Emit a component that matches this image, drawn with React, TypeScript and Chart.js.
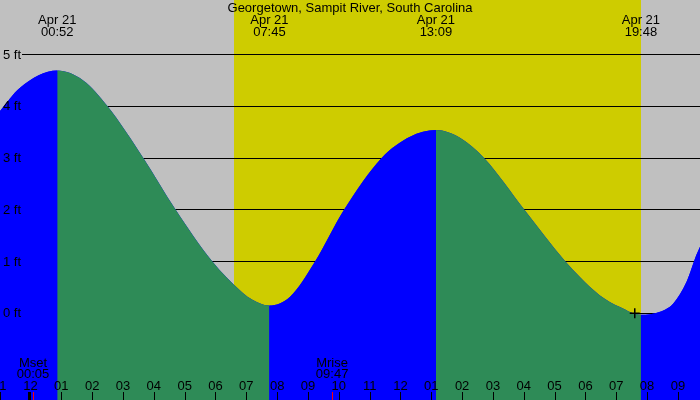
import { useEffect, useRef } from "react"
import { Chart, registerables } from "chart.js"

Chart.register(...registerables)

// Tide curve: hours after midnight (Apr 21) and height in feet
const tideHours = [-0.99, -0.34, 0.867, 1.71, 2.5, 3.66, 4.71, 5.9, 6.8, 7.12, 7.75, 8.42, 9.23, 10.17, 11.39, 12.31, 13.15, 13.93, 14.71, 16.02, 17.35, 17.82, 18.46, 19.12, 19.8, 20.42, 20.85, 21.28, 21.6, 21.72]
const tideFeet = [3.91, 4.36, 4.69, 4.5, 4.0, 3.0, 2.0, 1.0, 0.44, 0.29, 0.15, 0.32, 1.0, 2.0, 3.0, 3.41, 3.54, 3.39, 3.0, 2.0, 1.0, 0.7, 0.35, 0.12, -0.03, 0.03, 0.19, 0.61, 1.13, 1.29]

// High / low tide labels
const extremeHours = [0.867, 7.75, 13.15, 19.8]
const extremeDates = ["Apr 21", "Apr 21", "Apr 21", "Apr 21"]
const extremeTimes = ["00:52", "07:45", "13:09", "19:48"]

// Daylight
const sunriseHour = 6.6
const sunsetHour = 19.8

// Moon events
const moonNames = ["Mset", "Mrise"]
const moonTimes = ["00:05", "09:47"]
const moonHours = [0.083, 9.783]

// Axis ticks
const feetLevels = [0, 1, 2, 3, 4, 5]
const feetLabels = ["0 ft", "1 ft", "2 ft", "3 ft", "4 ft", "5 ft"]
const hourTicks = [-1, 0, 1, 2, 3, 4, 5, 6, 7, 8, 9, 10, 11, 12, 13, 14, 15, 16, 17, 18, 19, 20, 21]
const hourLabels = ["11", "12", "01", "02", "03", "04", "05", "06", "07", "08", "09", "10", "11", "12", "01", "02", "03", "04", "05", "06", "07", "08", "09"]
const dayBoundaries = [0]

// Datum marker
const markerHours = [19.6]
const markerFeet = [0]

const title = "Georgetown, Sampit River, South Carolina"

const GRAY = "#c0c0c0"
const YELLOW = "#cecc00"
const BLUE = "#0000ff"
const GREEN = "#2e8b57"
const FONT = "13px 'Liberation Sans', Arial, sans-serif"

const tidePlugin = {
  id: "tideDecor",
  beforeDraw(chart: any) {
    const { ctx, scales } = chart
    const x = scales.x
    const y = scales.y
    ctx.save()
    ctx.fillStyle = GRAY
    ctx.fillRect(0, 0, chart.width, chart.height)
    const x0 = x.getPixelForValue(sunriseHour)
    const x1 = x.getPixelForValue(sunsetHour)
    ctx.fillStyle = YELLOW
    ctx.fillRect(Math.round(x0), 0, Math.round(x1) - Math.round(x0), chart.height)
    ctx.strokeStyle = "#000"
    ctx.lineWidth = 1
    feetLevels.forEach((f) => {
      const py = Math.floor(y.getPixelForValue(f)) + 0.5
      ctx.beginPath()
      ctx.moveTo(22, py)
      ctx.lineTo(chart.width, py)
      ctx.stroke()
    })
    ctx.restore()
  },
  afterDatasetsDraw(chart: any) {
    const { ctx, scales } = chart
    const x = scales.x
    const y = scales.y
    ctx.save()
    ctx.font = FONT
    ctx.fillStyle = "#000"

    // y labels
    ctx.textAlign = "left"
    feetLevels.forEach((f, i) => {
      ctx.fillText(feetLabels[i], 3, y.getPixelForValue(f) + 4)
    })

    // title and tide times
    ctx.textAlign = "center"
    ctx.fillText(title, 350, 12)
    extremeHours.forEach((h, i) => {
      const px = x.getPixelForValue(h)
      ctx.fillText(extremeDates[i], px, 24)
      ctx.fillText(extremeTimes[i], px, 36)
    })

    // hour labels and ticks
    hourTicks.forEach((h, i) => {
      const px = x.getPixelForValue(h)
      ctx.fillText(hourLabels[i], px, 390)
      ctx.beginPath()
      ctx.strokeStyle = "#000"
      ctx.lineWidth = 1
      ctx.moveTo(Math.round(px) + 0.5, 392)
      ctx.lineTo(Math.round(px) + 0.5, 400)
      ctx.stroke()
    })
    dayBoundaries.forEach((h) => {
      const px = x.getPixelForValue(h)
      ctx.fillRect(Math.round(px) - 2, 392, 3, 8)
    })

    // moon events
    moonHours.forEach((h, i) => {
      const px = x.getPixelForValue(h)
      ctx.fillStyle = "#000"
      ctx.fillText(moonNames[i], px, 367)
      ctx.fillText(moonTimes[i], px, 378)
      ctx.beginPath()
      ctx.strokeStyle = "#ff0000"
      ctx.lineWidth = 1
      ctx.moveTo(Math.round(px) + 0.5, 392)
      ctx.lineTo(Math.round(px) + 0.5, 400)
      ctx.stroke()
    })
    ctx.restore()
  },
}

export default function App() {
  const chartRef = useRef<HTMLCanvasElement>(null)
  const chartInstance = useRef<Chart | null>(null)

  useEffect(() => {
    if (!chartRef.current) return
    if (chartInstance.current) {
      chartInstance.current.destroy()
    }
    const ctx = chartRef.current.getContext("2d")
    if (!ctx) return

    const tidePoints = tideHours.map((h, i) => ({ x: h, y: tideFeet[i] }))

    chartInstance.current = new Chart(ctx, {
      type: "line",
      data: {
        datasets: [
          {
            label: "Marker",
            data: markerHours.map((h, i) => ({ x: h, y: markerFeet[i] })),
            showLine: false,
            fill: false,
            pointStyle: "cross",
            pointRadius: 5,
            pointBorderWidth: 1.5,
            borderColor: "#000",
            order: 0,
          },
          {
            label: "Tide",
            data: tidePoints,
            fill: "start",
            borderWidth: 0,
            borderColor: "rgba(0,0,0,0)",
            backgroundColor: BLUE,
            pointRadius: 0,
            cubicInterpolationMode: "monotone",
            segment: {
              backgroundColor: (c: any) => (c.p1.parsed.y >= c.p0.parsed.y ? BLUE : GREEN),
            },
            order: 1,
          },
          {
            // solid underlay so no seams show between rising / falling fills
            label: "Underlay",
            data: tidePoints,
            fill: "start",
            borderWidth: 0,
            borderColor: "rgba(0,0,0,0)",
            backgroundColor: BLUE,
            pointRadius: 0,
            cubicInterpolationMode: "monotone",
            order: 2,
          },
        ],
      },
      options: {
        responsive: false,
        animation: false,
        layout: { padding: 0, autoPadding: false },
        scales: {
          x: { type: "linear", min: -0.989, max: 21.716, display: false },
          y: { min: -1.675, max: 6.054, display: false },
        },
        plugins: {
          legend: { display: false },
          tooltip: { enabled: false },
        },
      },
      plugins: [tidePlugin],
    } as any)

    return () => {
      if (chartInstance.current) {
        chartInstance.current.destroy()
        chartInstance.current = null
      }
    }
  }, [])

  return (
    <div style={{ position: "fixed", left: 0, top: 0, width: 700, height: 400 }}>
      <canvas ref={chartRef} width={700} height={400} style={{ display: "block" }} />
    </div>
  )
}
